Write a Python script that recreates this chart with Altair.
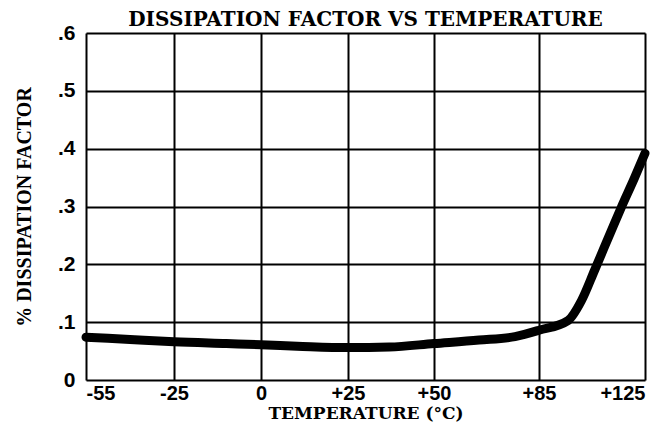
import altair as alt
import pandas as pd

temps = [-55, -40, -25, -10, 0, 12, 25, 37, 50, 65, 77, 85, 96, 101, 106, 112, 116, 121, 125]
df_vals = [0.074, 0.070, 0.066, 0.063, 0.061, 0.058, 0.056, 0.057, 0.063, 0.069, 0.075, 0.086,
           0.103, 0.137, 0.19, 0.255, 0.298, 0.349, 0.392]
x_ticks = [-55, -25, 0, 25, 50, 85, 125]
x_pos = [0, 88, 175, 262, 348, 453, 559]
y_ticks = [0, 0.1, 0.2, 0.3, 0.4, 0.5, 0.6]

data = pd.DataFrame({"t": temps, "d": df_vals})

W, H = 559, 347

chart = alt.Chart(data).mark_line(
    color="black", strokeWidth=9, interpolate="monotone", strokeCap="round"
).encode(
    x=alt.X("t:Q",
            scale=alt.Scale(domain=x_ticks, range=x_pos, nice=False, zero=False),
            axis=alt.Axis(values=x_ticks, title="TEMPERATURE (°C)",
                          labelExpr="datum.value > 0 ? '+' + datum.value : '' + datum.value",
                          grid=True, gridColor="black", gridWidth=2, gridOpacity=1,
                          domain=False, ticks=False, labelPadding=3,
                          labelFont="Liberation Sans", labelFontWeight="bold", labelFontSize=20,
                          labelColor="black",
                          titleFont="DejaVu Serif", titleFontWeight="bold", titleFontSize=17,
                          titleColor="black", titlePadding=2)),
    y=alt.Y("d:Q",
            scale=alt.Scale(domain=[0, 0.6], nice=False, zero=True),
            axis=alt.Axis(values=y_ticks, title="% DISSIPATION FACTOR",
                          labelExpr="datum.value == 0 ? '0' : replace(format(datum.value, '.1f'), '0.', '.')",
                          grid=True, gridColor="black", gridWidth=2, gridOpacity=1,
                          domain=False, ticks=False, labelPadding=11,
                          labelFont="Liberation Sans", labelFontWeight="bold", labelFontSize=21,
                          labelColor="black",
                          titleFont="Liberation Serif", titleFontWeight="bold", titleFontSize=20,
                          titleColor="black", titlePadding=23)),
).properties(
    width=W, height=H,
    title=alt.TitleParams("DISSIPATION FACTOR VS TEMPERATURE", font="DejaVu Serif",
                          fontWeight="bold", fontSize=20, color="black", offset=-8),
    autosize=alt.AutoSizeParams(type="none"),
    padding={"left": 78, "top": 25, "right": 8, "bottom": 50},
).configure_view(stroke="black", strokeWidth=2.5).configure(background="white")

chart.save("out.html", embed_options={"renderer": "svg", "actions": False})
